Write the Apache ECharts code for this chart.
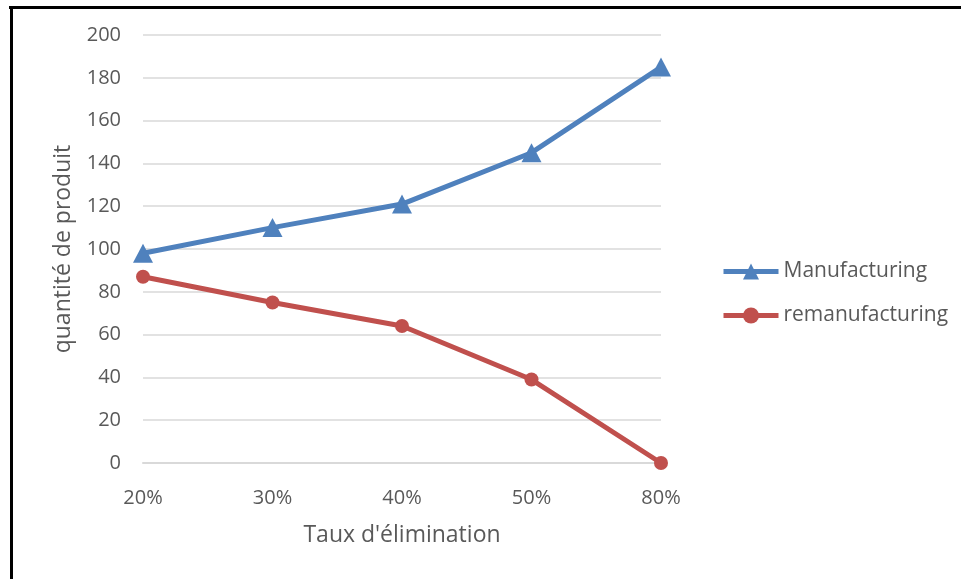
<!DOCTYPE html>
<html>
<head>
<meta charset="utf-8">
<script src="https://cdn.jsdelivr.net/npm/echarts@6/dist/echarts.min.js"></script>
<style>html,body{margin:0;padding:0;background:#fff}#c{width:961px;height:579px}</style>
</head>
<body>
<div id="c"></div>
<script>
const categories = ['20%', '30%', '40%', '50%', '80%'];
const manufacturing = [98, 110, 121, 145, 185];
const remanufacturing = [87, 75, 64, 39, 0];
const yTicks = [0, 200, 20];

const chart = echarts.init(document.getElementById('c'), null, {renderer: 'canvas'});
const font = 'Open Sans, Noto Sans, sans-serif';
chart.setOption({
  backgroundColor: '#fff',
  animation: false,
  textStyle: {fontFamily: font},
  grid: {left: 143, right: 300, top: 35, bottom: 116, containLabel: false},
  legend: {
    orient: 'vertical', left: 716, top: 256, itemWidth: 55, itemHeight: 20, itemGap: 23,
    textStyle: {fontSize: 21, lineHeight: 20, color: '#595959', fontFamily: font},
    lineStyle: {width: 5},
    data: ['Manufacturing', 'remanufacturing']
  },
  xAxis: {
    type: 'category', data: categories, boundaryGap: false,
    name: "Taux d'élimination", nameLocation: 'middle', nameGap: 61,
    nameTextStyle: {fontSize: 23, color: '#595959', fontFamily: font},
    axisLine: {lineStyle: {color: '#D9D9D9', width: 2}},
    axisTick: {show: false},
    axisLabel: {fontSize: 20, color: '#595959', margin: 25, fontFamily: font}
  },
  yAxis: {
    type: 'value', min: yTicks[0], max: yTicks[1], interval: yTicks[2],
    name: 'quantité de produit', nameLocation: 'middle', nameGap: 68,
    nameTextStyle: {fontSize: 23, color: '#595959', fontFamily: font},
    axisLine: {show: false}, axisTick: {show: false},
    axisLabel: {fontSize: 20, color: '#595959', margin: 22, fontFamily: font},
    splitLine: {lineStyle: {color: '#D9D9D9', width: 1.5}}
  },
  series: [
    {name: 'Manufacturing', type: 'line', data: manufacturing,
     symbol: 'triangle', symbolSize: [20, 19],
     lineStyle: {color: '#4F81BD', width: 5}, itemStyle: {color: '#4F81BD'}},
    {name: 'remanufacturing', type: 'line', data: remanufacturing,
     symbol: 'circle', symbolSize: 14,
     lineStyle: {color: '#C0504D', width: 5}, itemStyle: {color: '#C0504D'}}
  ],
  graphic: [
    {type: 'line', shape: {x1: 9, y1: 7.5, x2: 961, y2: 7.5}, style: {stroke: '#000', lineWidth: 3}},
    {type: 'line', shape: {x1: 11.5, y1: 6, x2: 11.5, y2: 579}, style: {stroke: '#000', lineWidth: 3}}
  ]
});
</script>
</body>
</html>
